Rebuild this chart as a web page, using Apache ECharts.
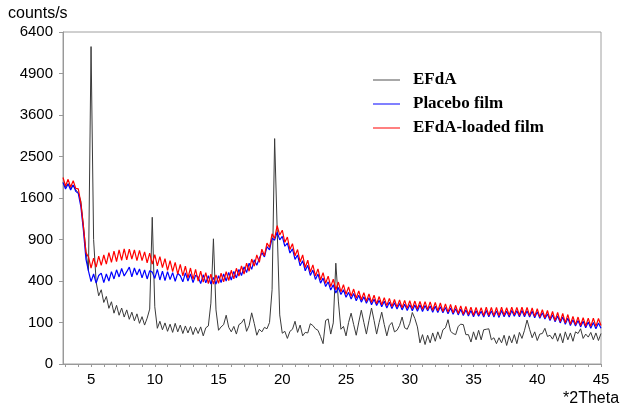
<!DOCTYPE html>
<html><head><meta charset="utf-8">
<script src="https://cdn.jsdelivr.net/npm/echarts@6/dist/echarts.min.js"></script>
<style>html,body{margin:0;padding:0;background:#fff}#c{width:629px;height:415px}</style>
</head><body><div id="c"></div>
<script>
// 2Theta sampling grid: 2.8 .. 45.0, step 0.2
const THETA_START = 2.8, THETA_STEP = 0.2;
const xTickLabels = [5, 10, 15, 20, 25, 30, 35, 40, 45];
const yTickLabels = [0, 100, 400, 900, 1600, 2500, 3600, 4900, 6400];
const seriesNames = ['EFdA', 'Placebo film', 'EFdA-loaded film'];

// counts/s, one value per grid step
const efda = [
  1910,1820,1890,1790,1860,1760,1700,1540,1120,740,
  500,5850,900,390,270,320,220,265,180,225,
  150,200,138,182,128,170,116,156,108,146,
  96,130,88,122,175,1250,190,74,106,68,
  98,62,92,58,96,60,88,54,84,56,
  82,50,78,54,80,46,76,84,215,910,
  170,66,80,90,138,78,60,82,52,90,
  98,118,62,86,152,96,48,70,60,78,
  72,100,320,2950,1050,140,55,62,38,62,
  70,106,58,88,46,58,56,94,86,72,
  66,44,24,110,118,52,98,590,230,70,
  82,46,100,150,90,48,102,168,100,52,
  110,182,110,52,100,156,90,46,86,100,
  60,66,86,128,76,70,96,154,120,80,
  26,50,22,48,26,56,30,60,36,68,
  76,114,62,54,50,82,92,90,50,50,
  28,60,34,66,34,68,70,72,34,40,
  24,40,26,48,20,46,26,50,24,58,
  38,66,112,70,40,60,32,52,54,74,
  44,48,36,56,30,54,26,60,34,56,
  30,60,54,72,38,52,42,58,34,56,
  32,54
];
const placebo = [
  1910,1780,1880,1760,1860,1730,1690,1440,1040,640,
  500,395,470,380,455,480,385,470,400,495,
  420,515,440,530,450,495,545,440,535,460,
  525,430,515,420,505,490,425,520,410,500,
  405,495,415,485,398,478,452,392,482,400,
  470,385,458,440,375,462,382,452,372,435,
  370,452,385,470,400,488,410,498,430,520,
  455,548,485,590,520,630,565,650,720,665,
  800,755,920,890,1010,895,945,805,850,715,
  770,635,690,560,620,505,565,455,512,415,
  470,380,428,348,392,318,365,292,340,280,
  320,258,298,245,288,232,275,222,262,214,
  255,204,244,198,235,190,228,182,222,178,
  218,176,212,170,208,166,204,164,202,162,
  202,160,198,164,196,156,194,154,190,152,
  186,146,182,144,178,140,174,136,170,134,
  166,130,164,132,162,128,166,130,164,128,
  164,126,166,130,162,128,166,132,164,130,
  166,130,164,128,162,124,158,122,152,118,
  146,110,140,104,134,98,128,92,122,86,
  114,84,110,80,106,76,102,74,100,72,
  98,74
];
const loaded = [
  2020,1840,1980,1820,1950,1790,1780,1500,1100,720,
  665,535,650,545,675,565,690,580,720,600,
  740,610,755,625,770,630,765,640,755,620,
  750,620,730,595,715,580,695,560,670,540,
  645,510,620,495,600,470,575,450,555,430,
  535,415,520,400,500,390,485,375,470,370,
  462,378,478,392,495,405,510,420,532,448,
  558,470,590,500,640,555,690,600,765,680,
  850,790,985,915,1110,965,1040,860,935,760,
  840,680,760,605,690,540,625,490,570,450,
  525,410,485,378,448,348,418,320,390,302,
  365,282,345,266,326,252,310,240,296,228,
  285,220,275,210,264,204,256,198,250,192,
  242,188,238,184,235,180,232,178,230,176,
  228,174,226,172,224,168,220,164,216,160,
  210,156,206,152,200,148,196,144,192,142,
  188,138,186,140,184,136,188,138,186,136,
  186,136,188,138,184,138,188,140,186,138,
  188,138,186,136,182,132,178,128,172,124,
  166,116,160,110,154,104,148,98,142,92,
  132,90,128,86,124,84,122,82,122,82,
  120,86
];

const theta = efda.map((_, i) => +(THETA_START + i * THETA_STEP).toFixed(1));
const xMinorTicks = [];
for (let t = 3; t <= 45; t++) xMinorTicks.push(t);

const seriesValues = [efda, placebo, loaded];
const seriesColors = ['#3a3a3a', '#0000ff', '#ff0000'];
const legendColors = ['#a8a8a8', '#8080ff', '#ff8080'];
const seriesWidths = [1, 1.2, 1.2];

// legend drawn as graphic: a short line and a bold serif label per series
const legendGraphics = [];
seriesNames.forEach((n, i) => {
  const cy = 80 + i * 24;
  legendGraphics.push({ type: 'line', shape: { x1: 373, y1: cy, x2: 400, y2: cy }, style: { stroke: legendColors[i], lineWidth: 2 } });
  legendGraphics.push({ type: 'text', x: 413, y: cy, style: { text: n, font: 'bold 17px "Liberation Serif"', fill: '#000', textVerticalAlign: 'middle', verticalAlign: 'middle' } });
});

const chart = echarts.init(document.getElementById('c'), null, { renderer: 'canvas' });
const axisGrey = '#999999';
chart.setOption({
  animation: false,
  backgroundColor: '#ffffff',
  grid: { left: 63, right: 28, top: 32, bottom: 51, show: true, borderColor: '#a0a0a0', borderWidth: 1 },
  legend: { show: false, data: seriesNames },
  xAxis: {
    type: 'value', min: THETA_START, max: 45,
    axisLine: { show: true, lineStyle: { color: axisGrey, width: 1 } },
    axisTick: { show: true, customValues: xMinorTicks, length: 3, lineStyle: { color: axisGrey } },
    axisLabel: { customValues: xTickLabels, margin: 8, fontFamily: 'Liberation Sans', fontSize: 15, color: '#000' },
    splitLine: { show: false }
  },
  yAxis: {
    type: 'value', min: 0, max: 80,
    axisLine: { show: true, lineStyle: { color: axisGrey, width: 1 } },
    axisTick: { show: true, customValues: yTickLabels.map(Math.sqrt), length: 4, lineStyle: { color: axisGrey } },
    minorTick: { show: true, splitNumber: 2, length: 4, lineStyle: { color: axisGrey } },
    axisLabel: {
      customValues: yTickLabels.map(Math.sqrt), margin: 10, fontFamily: 'Liberation Sans', fontSize: 15, color: '#000',
      formatter: v => String(Math.round(v * v))
    },
    splitLine: { show: false }
  },
  graphic: [
    { type: 'text', left: 8, top: 6, style: { text: 'counts/s', font: '16px "Liberation Sans"', fill: '#000' } },
    { type: 'text', left: 563, top: 391, style: { text: '*2Theta', font: '16px "Liberation Sans"', fill: '#000' } }
  ].concat(legendGraphics),
  series: seriesNames.map((n, i) => ({
    name: n, type: 'line', showSymbol: false, symbol: 'none', sampling: null,
    lineStyle: { color: seriesColors[i], width: seriesWidths[i] },
    data: theta.map((t, k) => [t, Math.sqrt(seriesValues[i][k])]),
    z: 2 + i
  }))
});
</script></body></html>
